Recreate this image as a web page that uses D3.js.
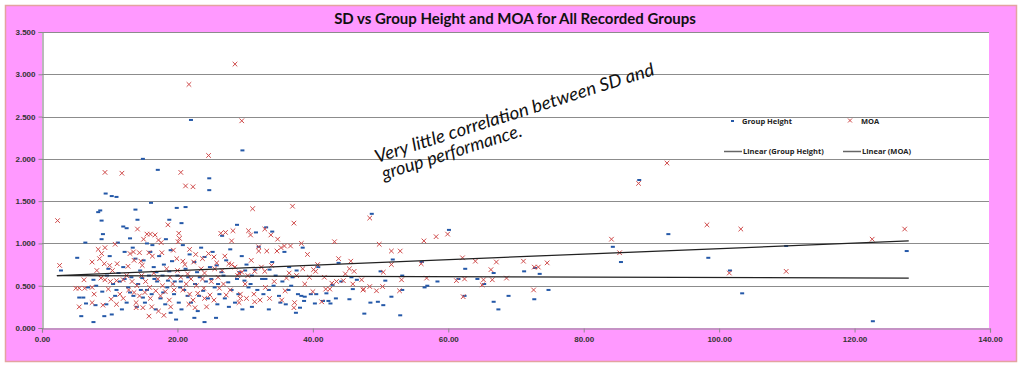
<!DOCTYPE html>
<html><head><meta charset="utf-8">
<script src="https://cdn.jsdelivr.net/npm/d3@7"></script>
<style>html,body{margin:0;padding:0;background:#fff;}svg{display:block;}</style>
</head><body>
<script>
const title = "SD vs Group Height and MOA for All Recorded Groups";
const xTicks = [0,20,40,60,80,100,120,140];
const yTicks = [0,0.5,1,1.5,2,2.5,3,3.5];
const seriesNames = ["Group Height","MOA"];
const trendNames = ["Linear (Group Height)","Linear (MOA)"];
const trendGroupHeight = [[2.2,0.62],[128,0.59]];
const trendMOA = [[2.2,0.62],[128,1.03]];
const noteLines = ["Very little correlation between SD and","group performance."];

const groupHeight = [
[22.0,2.46],[29.6,2.10],[24.7,1.77],[24.7,1.63],[14.9,2.00],[17.1,1.87],[9.4,1.59],[10.3,1.56],[11.0,1.55],
[8.6,1.39],[8.3,1.37],[16.1,1.48],[8.8,1.27],[13.8,1.40],[14.1,1.28],[12.0,1.20],[12.5,1.18],[18.8,1.28],
[19.9,1.42],[21.2,1.43],[20.6,1.24],[28.8,1.22],[26.6,1.09],[31.6,1.13],[33.1,1.19],[34.0,1.14],[48.7,1.35],
[60.1,1.16],[88.2,1.75],[92.5,1.11],[84.3,0.96],[85.5,0.78],[98.4,0.83],[101.6,0.68],[103.4,0.41],[109.9,0.97],
[122.7,0.08],[127.7,0.91],[71.2,0.67],[72.8,0.71],[73.5,0.64],[72.7,0.34],[74.8,0.45],[68.9,0.38],[62.5,0.70],
[66.7,0.65],[61.5,0.58],[64.3,0.58],[65.3,0.52],[62.4,0.38],[66.7,0.31],[67.4,0.22],[56.1,0.78],[58.4,0.55],
[56.9,0.50],[56.5,0.48],[51.8,0.81],[50.0,0.67],[53.2,0.62],[50.7,0.56],[53.2,0.45],[51.6,0.37],[50.4,0.27],
[52.9,0.15],[49.6,0.31],[48.5,0.30],[46.5,0.57],[47.6,0.17],[43.8,0.77],[40.8,0.72],[45.7,0.60],[44.2,0.55],
[45.9,0.46],[42.9,0.51],[39.7,0.40],[40.5,0.40],[42.0,0.41],[38.3,0.38],[38.8,0.37],[43.4,0.35],[45.4,0.34],
[41.5,0.32],[42.3,0.32],[42.6,0.29],[40.3,0.29],[38.7,0.32],[38.1,0.24],[38.5,0.95],[37.5,0.18],
[32.0,0.96],[35.8,0.90],[33.6,0.69],[31.5,0.69],[37.6,0.68],[29.9,0.56],[24.0,0.07],[25.7,0.12],[36.4,0.45],
[34.2,0.50],[30.5,0.48],[32.7,0.40],[35.0,0.38],[36.0,0.28],[31.0,0.25],[33.5,0.22],[29.0,0.40],
[2.8,0.68],[5.2,0.83],[6.4,1.01],[9.0,1.11],[8.8,1.05],[11.2,1.01],[13.0,1.06],[16.3,0.98],[12.2,0.90],
[16.0,0.90],[8.9,0.43],[5.5,0.36],[6.1,0.36],[6.5,0.29],[7.9,0.27],[5.8,0.14],[7.6,0.07],[9.2,0.14],[10.3,0.16],
[7.6,0.57],[13.2,0.60],[14.8,0.59],[9.6,0.62],[11.5,0.55],[12.7,0.48],[14.2,0.52],[15.5,0.45],[16.2,0.40],
[17.0,0.55],[17.8,0.62],[18.5,0.48],[19.2,0.79],[19.5,0.40],[15.2,0.30],[16.8,0.22],[17.5,0.35],[18.2,0.28],
[19.0,0.18],[14.0,0.25],[13.5,0.38],[12.5,0.30],[11.0,0.45],[10.5,0.52],[9.8,0.70],[8.0,0.50],[6.8,0.48],
[16.5,0.72],[15.0,0.80],[14.5,0.68],[17.3,0.85],[18.0,0.75],[13.8,0.82],[12.0,0.72],[11.3,0.65],[20.0,0.62],
[20.5,0.55],[21.0,0.45],[21.5,0.38],[22.0,0.30],[22.6,0.52],[23.3,0.60],[23.8,0.44],[24.5,0.35],[25.0,0.58],
[25.5,0.48],[26.2,0.40],[26.8,0.62],[27.5,0.54],[28.0,0.45],[28.5,0.30],[21.8,0.87],[21.2,0.70],[22.5,0.78],
[24.0,0.84],[25.8,0.74],[26.5,0.66],[27.2,0.80],[23.0,0.20],[22.5,0.12],[20.6,0.22],[20.2,0.30],[19.8,0.10],
[15.8,0.62],[16.6,0.58],[17.9,0.42],[18.8,0.67],[19.6,0.55],[14.6,0.45],[13.0,0.42],[12.2,0.58],[10.8,0.38],
[9.5,0.28],[11.8,0.22],[10.0,0.85],[13.4,0.95],[15.5,1.00],[18.3,1.05],[19.0,0.92],[20.8,0.98],[23.5,0.95],
[25.2,0.90],[27.8,0.93],[29.5,0.85],[30.2,0.75],[31.0,0.62],[29.2,0.66],[30.8,0.52],[32.5,0.58],[33.5,0.45],
[34.5,0.62],[35.5,0.55],[36.5,0.72],[37.0,0.60],[34.0,0.78],[35.2,0.30],[37.8,0.40],[36.8,0.50],
[21.6,0.60],[22.9,0.66],[24.2,0.55],[26.0,0.52],[27.0,0.35],[28.8,0.58],[30.0,0.68],[31.8,0.45],[33.0,0.58],
[24.8,0.72],[23.2,0.38],[25.9,0.28],[27.6,0.25],[29.6,0.22],[16.9,0.66],[18.6,0.56],[20.4,0.48],[14.9,0.36]
];

const moa = [
[28.5,3.12],[21.7,2.88],[29.5,2.45],[24.6,2.04],[9.3,1.84],[11.8,1.83],[20.5,1.84],[21.2,1.68],[22.3,1.67],
[2.3,1.27],[2.6,0.74],[92.3,1.95],[88.1,1.71],[98.2,1.22],[103.2,1.17],[84.1,1.05],[85.3,0.89],[101.5,0.65],
[109.9,0.67],[122.6,1.05],[127.4,1.17],[71.1,0.79],[72.7,0.72],[73.3,0.72],[74.6,0.77],[72.6,0.45],[68.6,0.59],
[48.4,1.30],[38.3,1.00],[43.2,1.02],[39.2,0.87],[49.8,0.99],[51.6,0.91],[52.9,0.91],[56.4,1.03],[58.2,1.08],
[59.9,1.11],[62.1,0.83],[64.0,0.79],[66.3,0.69],[67.1,0.78],[66.5,0.57],[61.2,0.56],[62.4,0.58],[65.0,0.51],
[65.2,0.57],[62.2,0.37],[56.0,0.76],[56.8,0.59],[51.6,0.75],[50.4,0.66],[53.1,0.57],[50.3,0.49],[52.8,0.44],
[49.4,0.44],[48.4,0.49],[47.2,0.57],[47.5,0.46],[45.6,0.79],[45.4,0.70],[46.1,0.67],[44.8,0.64],[43.8,0.82],
[40.7,0.75],[40.1,0.69],[40.4,0.67],[38.5,0.70],[41.7,0.60],[39.5,0.60],[44.5,0.56],[43.5,0.55],[42.8,0.53],
[38.8,0.52],[45.9,0.52],[47.4,0.45],[41.9,0.46],[42.5,0.46],[40.0,0.43],[41.3,0.31],
[31.1,1.41],[37.2,1.24],[37.0,1.44],[26.4,1.12],[27.1,1.13],[28.2,1.15],[30.5,1.15],[30.8,1.10],[32.9,1.17],
[33.8,1.10],[34.8,1.05],[28.0,1.03],[20.1,1.02],[20.2,1.12],[20.3,1.06],[35.8,0.97],[32.0,0.96],[32.0,0.91],
[33.2,0.91],[34.7,0.91],[35.3,0.95],[36.7,0.97],[21.8,0.93],[22.7,0.87],[23.7,0.82],[24.6,0.88],[25.4,0.84],
[19.9,0.82],[20.8,0.79],[21.1,0.75],[22.4,0.78],[25.8,0.77],[27.6,0.76],[28.0,0.75],[28.5,0.72],[29.5,0.66],
[29.1,0.65],[28.9,0.62],[24.0,0.65],[23.7,0.58],[31.4,0.67],[32.4,0.72],[32.9,0.67],[33.9,0.74],[36.1,0.59],
[36.5,0.65],[37.6,0.62],[30.4,0.62],[26.2,0.47],[27.2,0.39],[29.3,0.40],[30.2,0.35],[31.3,0.40],[32.2,0.33],
[33.6,0.35],[25.4,0.33],[24.0,0.35],[23.0,0.41],[24.3,0.25],[24.8,0.39],[21.7,0.28],[22.6,0.24],[22.3,0.33],
[29.1,0.30],[29.3,0.35],[31.4,0.31],[35.4,0.33],[37.3,0.30],[37.2,0.24],
[14.1,1.17],[18.6,1.22],[15.5,1.11],[16.0,1.11],[16.7,1.10],[15.0,1.05],[17.2,1.04],[17.6,1.01],[10.8,0.99],
[8.3,0.93],[9.3,0.95],[8.8,0.88],[13.0,0.88],[13.5,0.90],[14.4,0.89],[15.8,0.89],[16.3,0.85],[17.7,0.89],
[8.5,0.82],[7.4,0.78],[9.2,0.76],[10.0,0.74],[11.1,0.76],[12.7,0.73],[13.6,0.80],[14.6,0.79],[14.8,0.74],
[8.1,0.68],[10.4,0.68],[6.2,0.57],[9.3,0.57],[11.0,0.56],[12.0,0.57],[8.7,0.59],[10.1,0.55],[5.0,0.47],
[5.5,0.47],[6.3,0.47],[7.4,0.48],[9.8,0.46],[7.7,0.40],[10.2,0.34],[5.5,0.25],[7.4,0.30],[9.0,0.27],
[13.9,0.30],[13.9,0.24],[14.9,0.24],[15.8,0.14],
[12.5,0.62],[13.3,0.55],[14.0,0.50],[14.7,0.62],[15.3,0.55],[15.9,0.48],[16.5,0.65],[17.1,0.58],[17.8,0.50],
[18.4,0.70],[18.9,0.60],[19.3,0.52],[12.8,0.45],[13.6,0.42],[14.4,0.38],[15.2,0.42],[16.0,0.35],[16.8,0.44],
[17.5,0.38],[18.2,0.43],[18.8,0.33],[19.5,0.45],[16.2,0.25],[17.2,0.20],[18.0,0.15],[19.0,0.25],[11.5,0.40],
[12.0,0.35],[11.0,0.28],[20.5,0.60],[21.3,0.52],[22.0,0.58],[22.8,0.50],[20.8,0.45],[21.8,0.40],[25.0,0.55],
[26.0,0.60],[26.8,0.52],[27.8,0.45],[25.5,0.70],[23.5,0.70],[20.0,0.68],[21.5,0.64],
[26.6,0.68],[30.0,0.52],[34.3,0.55],[35.9,0.44],[33.0,0.48],[27.0,0.85],[30.9,0.80],[19.4,0.92],[23.9,0.47]
];

const W = 1023, H = 367;
const blue = "#2458a8", red = "#cf4a4a";
const svg = d3.select("body").append("svg").attr("width", W).attr("height", H);

svg.append("rect").attr("x",0).attr("y",0).attr("width",W).attr("height",H).attr("fill","#fff");
svg.append("rect").attr("x",5.5).attr("y",5.5).attr("width",1011).attr("height",356)
  .attr("fill","#ff99ff").attr("stroke","#e3a3a0").attr("stroke-width",1.5);

const plot = {l:42, t:32, r:989, b:328};
svg.append("rect").attr("x",plot.l).attr("y",plot.t).attr("width",plot.r-plot.l).attr("height",plot.b-plot.t).attr("fill","#fff");

const x = d3.scaleLinear().domain([0,140]).range([plot.l, plot.r+1]);
const y = d3.scaleLinear().domain([0,3.5]).range([plot.b, plot.t]);

svg.append("g").selectAll("line").data(yTicks.slice(1)).join("line")
  .attr("x1",plot.l).attr("x2",plot.r).attr("y1",d=>Math.round(y(d))+0.5).attr("y2",d=>Math.round(y(d))+0.5)
  .attr("stroke","#8c8c8c").attr("stroke-width",1.2);

const fontTick = "'Liberation Sans', Arial, sans-serif";
const yAxis = d3.axisLeft(y).tickValues(yTicks).tickFormat(d3.format(".3f")).tickSize(4).tickPadding(3);
const gy = svg.append("g").attr("transform",`translate(${plot.l+0.5},0)`).call(yAxis);
const xAxis = d3.axisBottom(x).tickValues(xTicks).tickFormat(d3.format(".2f")).tickSize(4).tickPadding(4);
const gx = svg.append("g").attr("transform",`translate(0,${plot.b+0.5})`).call(xAxis);
[gx,gy].forEach(g=>{
  g.select(".domain").attr("stroke","#8c8c8c").attr("stroke-width",1.2);
  g.selectAll(".tick line").attr("stroke","#8c8c8c");
  g.selectAll("text").attr("font-family",fontTick).attr("font-size",8).attr("font-weight","bold").attr("fill","#333");
});

svg.append("g").selectAll("rect").data(groupHeight).join("rect")
  .attr("x",d=>x(d[0])-2).attr("y",d=>y(d[1])-1).attr("width",4).attr("height",2).attr("fill",blue);
const xs = 2.3;
svg.append("g").selectAll("path").data(moa).join("path")
  .attr("d",d=>{const cx=x(d[0]), cy=y(d[1]);return `M${cx-xs},${cy-xs}L${cx+xs},${cy+xs}M${cx-xs},${cy+xs}L${cx+xs},${cy-xs}`;})
  .attr("stroke",red).attr("stroke-width",1).attr("fill","none");

const line = d3.line().x(d=>x(d[0])).y(d=>y(d[1]));
[trendGroupHeight, trendMOA].forEach(t=>{
  svg.append("path").attr("d",line(t)).attr("stroke","#222").attr("stroke-width",1.3).attr("fill","none");
});

svg.append("text").attr("x",515).attr("y",24).attr("text-anchor","middle")
  .attr("font-family","Lato, 'Open Sans', sans-serif").attr("font-weight","bold").attr("font-size",15)
  .attr("fill","#111").text(title);

const lf = {fam:"'Open Sans', Lato, sans-serif", size:7.5};
const lg = svg.append("g").attr("font-family",lf.fam).attr("font-size",lf.size).attr("font-weight","bold").attr("fill","#222");
lg.append("rect").attr("x",731).attr("y",120).attr("width",3).attr("height",2).attr("fill",blue);
lg.append("text").attr("x",742).attr("y",124).text(seriesNames[0]);
lg.append("path").attr("d","M848,118.5L852,122.5M848,122.5L852,118.5").attr("stroke",red).attr("stroke-width",1);
lg.append("text").attr("x",861).attr("y",124).text(seriesNames[1]);
lg.append("line").attr("x1",724).attr("x2",742).attr("y1",151.5).attr("y2",151.5).attr("stroke","#666").attr("stroke-width",1.5);
lg.append("text").attr("x",743).attr("y",154).text(trendNames[0]);
lg.append("line").attr("x1",843).attr("x2",861).attr("y1",151.5).attr("y2",151.5).attr("stroke","#666").attr("stroke-width",1.5);
lg.append("text").attr("x",862).attr("y",154).text(trendNames[1]);

const ang = -17.6;
const note = svg.append("g").attr("font-family","Lato, 'Liberation Serif', serif").attr("font-style","italic")
  .attr("font-size",18).attr("fill","#111");
note.append("text").attr("transform",`translate(377,163) rotate(${ang})`)
  .attr("textLength",292).attr("lengthAdjust","spacingAndGlyphs").text(noteLines[0]);
note.append("text").attr("transform",`translate(384,180) rotate(${ang})`)
  .attr("textLength",146).attr("lengthAdjust","spacingAndGlyphs").text(noteLines[1]);
</script>
</body></html>
